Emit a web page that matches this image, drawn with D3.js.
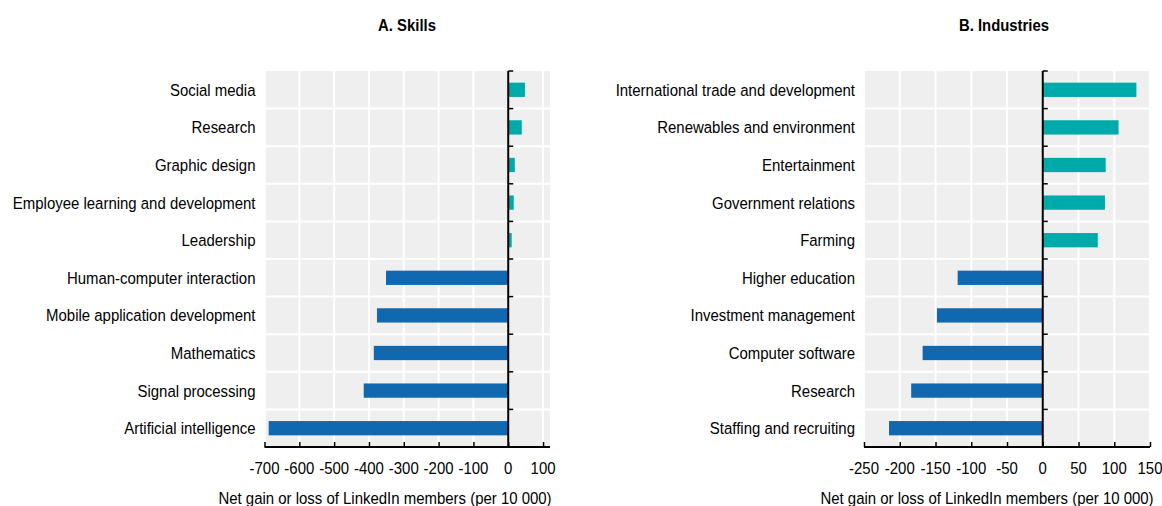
<!DOCTYPE html>
<html>
<head>
<meta charset="utf-8">
<script src="https://cdn.jsdelivr.net/npm/d3@7"></script>
<style>
  body { margin: 0; background: #fff; }
  svg text { font-family: "Liberation Sans", Arial, sans-serif; fill: #000; }
</style>
</head>
<body>
<svg id="chart" width="1162" height="506"></svg>
<script>
// skills panel
var skillNames = ["Social media", "Research", "Graphic design", "Employee learning and development", "Leadership",
    "Human-computer interaction", "Mobile application development", "Mathematics", "Signal processing", "Artificial intelligence"];
var skillValues = [48, 39, 19, 16, 10, -351, -377, -386, -415, -688];
var skillTicks = [-700, -600, -500, -400, -300, -200, -100, 0, 100];

// industries panel
var industryNames = ["International trade and development", "Renewables and environment", "Entertainment", "Government relations", "Farming",
    "Higher education", "Investment management", "Computer software", "Research", "Staffing and recruiting"];
var industryValues = [131, 106, 88, 87, 77, -119, -148, -168, -184, -215];
var industryTicks = [-250, -200, -150, -100, -50, 0, 50, 100, 150];

var axisTitle = "Net gain or loss of LinkedIn members (per 10 000)";

var svg = d3.select("#chart");
var plotTop = 71, plotBottom = 447;
var narrow = 0.88; // the original font is a condensed Arial

function label(g, x, y, txt, size, anchor) {
    return g.append("text")
        .attr("transform", "translate(" + x + "," + y + ") scale(" + narrow + ",1)")
        .attr("text-anchor", anchor).attr("font-size", size)
        .text(txt);
}

function panel(opts) {
    var g = svg.append("g");
    var x = d3.scaleLinear().domain(opts.domain).range(opts.range);
    var y = d3.scaleBand().domain(opts.names).range([plotTop, plotBottom]).padding(0);
    var left = opts.range[0] + 1, right = x(opts.domain[1]);

    // grey background
    g.append("rect").attr("x", left).attr("y", plotTop).attr("width", right - left).attr("height", plotBottom - plotTop)
        .attr("fill", "#efefef");

    // white grid
    g.selectAll(".vgrid").data(opts.ticks).enter().append("line")
        .attr("x1", function(d) { return x(d); }).attr("x2", function(d) { return x(d); })
        .attr("y1", plotTop).attr("y2", plotBottom).attr("stroke", "#fff").attr("stroke-width", 2);
    g.selectAll(".hgrid").data(opts.names.slice(1)).enter().append("line")
        .attr("x1", left).attr("x2", right)
        .attr("y1", function(d) { return y(d); }).attr("y2", function(d) { return y(d); })
        .attr("stroke", "#fff").attr("stroke-width", 2);

    // bars
    var bh = y.bandwidth() * 0.38;
    g.selectAll(".bar").data(opts.values).enter().append("rect")
        .attr("x", function(d) { return Math.min(x(0), x(d)); })
        .attr("width", function(d) { return Math.abs(x(d) - x(0)); })
        .attr("y", function(d, i) { return y(opts.names[i]) + (y.bandwidth() - bh) / 2; })
        .attr("height", bh)
        .attr("fill", function(d) { return d >= 0 ? "#00aaaa" : "#0f68b0"; });

    // zero axis with ticks at row boundaries
    g.append("line").attr("x1", x(0)).attr("x2", x(0)).attr("y1", plotTop).attr("y2", plotBottom)
        .attr("stroke", "#000").attr("stroke-width", 2);
    var bounds = opts.names.map(function(d) { return y(d); });
    g.selectAll(".ytick").data(bounds).enter().append("line")
        .attr("x1", x(0)).attr("x2", x(0) + 5)
        .attr("y1", function(d) { return d; }).attr("y2", function(d) { return d; })
        .attr("stroke", "#000").attr("stroke-width", 1.5);

    // category labels
    opts.names.forEach(function(d) {
        label(g, left - 10, y(d) + y.bandwidth() / 2 + 6, d, 17, "end");
    });

    // x axis
    var xAxis = d3.axisBottom(x).tickValues(opts.ticks).tickSize(-5).tickFormat("");
    var ax = g.append("g").attr("transform", "translate(0," + plotBottom + ")").call(xAxis);
    ax.select(".domain").attr("d", "M" + opts.range[0] + ",0H" + right).attr("stroke", "#000").attr("stroke-width", 2);
    ax.selectAll(".tick line").attr("stroke", "#000").attr("stroke-width", 1.5);
    opts.ticks.forEach(function(t) {
        label(g, x(t), 474, String(t), 17, "middle");
    });

    label(g, opts.titleX, 504, axisTitle, 17, "middle");
    g.append("text").attr("x", opts.headX).attr("y", 31).attr("text-anchor", "middle")
        .attr("transform", "translate(" + opts.headX * (1 - 0.93) + ",0) scale(0.93,1)")
        .attr("font-size", 16).attr("font-weight", "bold").text(opts.head);
}

panel({ names: skillNames, values: skillValues, ticks: skillTicks, domain: [-700, 120], range: [264.5, 550],
        head: "A. Skills", headX: 407, titleX: 385 });
panel({ names: industryNames, values: industryValues, ticks: industryTicks, domain: [-250, 150], range: [864, 1150],
        head: "B. Industries", headX: 1004, titleX: 987 });
</script>
</body>
</html>
